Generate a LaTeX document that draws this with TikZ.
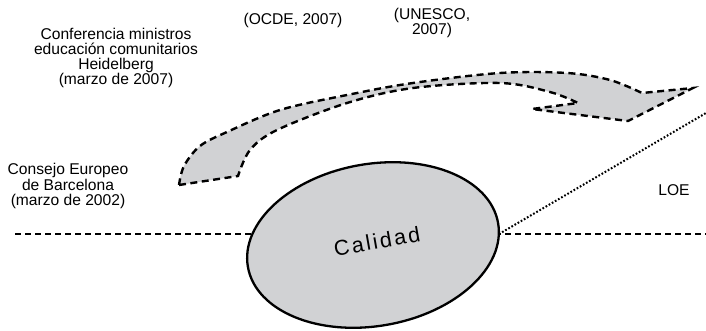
\documentclass[tikz,border=0pt]{standalone}
\usepackage{fontspec}
\setmainfont{Liberation Sans}
\newfontfamily\calfont[LetterSpace=11]{Liberation Sans}
\usetikzlibrary{shapes.geometric}
\definecolor{mygray}{RGB}{209,210,212}
\tikzset{
  lbl/.style={align=center, inner sep=0pt, font=\fontsize{15.6}{15.3}\selectfont},
  arrowshape/.style={fill=mygray, draw=black, line width=2.4pt, dash pattern=on 7pt off 4.5pt, line join=miter},
  baseline/.style={draw=black, line width=2.2pt, dash pattern=on 6pt off 4pt},
  dotline/.style={draw=black, line width=2pt, dash pattern=on 1.7pt off 1.9pt},
  calstyle/.style={ellipse, draw=black, fill=mygray, line width=2.3pt, minimum width=254pt, minimum height=162pt, inner sep=0pt}
}
\begin{document}
\begin{tikzpicture}[x=1pt,y=-1pt]
\useasboundingbox (0,0) rectangle (706,331);
% horizontal dashed line and dotted line
\coordinate (hl) at (15,234);
\coordinate (hr) at (706,234);
\coordinate (d1) at (499,234);
\coordinate (d2) at (706,113);
\draw[baseline] (hl) -- (hr);
\draw[dotline] (d1) -- (d2);
% ellipse
\node[calstyle, rotate=10] (cal) at (373,245) {};
\node[inner sep=0pt, rotate=10, font=\calfont\fontsize{21.5}{21.5}\selectfont] (caltext) at (377,241) {Calidad};
% curved arrow
\path[arrowshape] (179,185) -- (238,176)
  -- plot[smooth, tension=0.55] coordinates {(238,176) (250,150) (277,130) (347,103) (413,88) (500,83) (550,92) (578,103)}
  -- (532,109) -- (628,121) -- (693,88) -- (642,93)
  -- plot[smooth, tension=0.55] coordinates {(642,93) (610,80) (567,73) (500,73) (413,83) (347,95) (280,110) (227,132) (200,146) (184,166) (179,185)}
  -- cycle;
% labels
\node[lbl] (conf) at (116,58) {Conferencia ministros\\educación comunitarios\\Heidelberg\\(marzo de 2007)};
\node[lbl] (ocde) at (293,20) {(OCDE, 2007)};
\node[lbl] (unesco) at (432,23) {(UNESCO,\\2007)};
\node[lbl] (consejo) at (68,186) {Consejo Europeo\\de Barcelona\\(marzo de 2002)};
\node[lbl] (loe) at (674,190) {LOE};
\end{tikzpicture}
\end{document}
